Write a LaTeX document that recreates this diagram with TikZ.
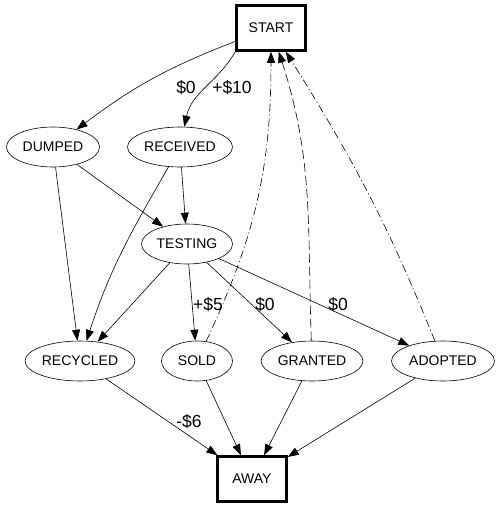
\documentclass[tikz,border=0pt]{standalone}
\usepackage{fontspec}
\setmainfont{Liberation Sans}
\usetikzlibrary{shapes.geometric,arrows.meta}

\tikzset{
  state/.style={draw, ellipse, line width=0.6pt, inner sep=0pt, minimum height=40pt},
  endbox/.style={draw, rectangle, line width=2.5pt, minimum width=69pt, minimum height=45pt},
  amount/.style={font=\fontsize{17.5}{20}\selectfont, inner sep=0pt},
  flow/.style={->, line width=0.6pt},
  back/.style={->, line width=0.6pt, dash pattern=on 9pt off 4pt},
  backdot/.style={->, line width=0.6pt, dash pattern=on 8pt off 3pt on 1pt off 3pt},
}

\begin{document}
\begin{tikzpicture}[x=1pt, y=1pt, >={Triangle[length=11pt,width=8pt]},
    font=\fontsize{14}{16}\selectfont]
  \useasboundingbox (0,0) rectangle (501,-509);

  % states
  \node[endbox] (start) at (271,-28) {START};
  \node[state, minimum width=93pt] (dumped) at (53,-147) {DUMPED};
  \node[state, minimum width=105pt] (received) at (180,-147) {RECEIVED};
  \node[state, minimum width=91pt] (testing) at (187,-244) {TESTING};
  \node[state, minimum width=110pt] (recycled) at (80,-361) {RECYCLED};
  \node[state, minimum width=71pt] (sold) at (197,-361) {SOLD};
  \node[state, minimum width=102pt] (granted) at (312,-361) {GRANTED};
  \node[state, minimum width=103pt] (adopted) at (443,-361) {ADOPTED};
  \node[endbox] (away) at (252,-479) {AWAY};

  % forward edges
  \draw[flow] (start) to[bend right=8] (dumped);
  \draw[flow] (start.south west) to[out=-120,in=78] (received);
  \draw[flow] (dumped) -- (testing);
  \draw[flow] (dumped) -- (recycled);
  \draw[flow] (received) -- (testing);
  \draw[flow] (received) to[out=-120,in=72] (recycled);
  \draw[flow] (testing) -- (recycled);
  \draw[flow] (testing) -- (sold);
  \draw[flow] (testing) -- (granted);
  \draw[flow] (testing) -- (adopted);
  \draw[flow] (recycled) -- (away);
  \draw[flow] (sold) -- (away);
  \draw[flow] (granted) -- (away);
  \draw[flow] (adopted) -- (away);

  % back to start
  \draw[backdot] (sold) to[out=65,in=-90] (start);
  \draw[back] (granted) to[out=92,in=-72] (start);
  \draw[backdot] (adopted) to[out=112,in=-58] (start);

  % amounts
  \node[amount] (lbl0a) at (186,-88) {\$0};
  \node[amount] (lbl10) at (232,-88) {+\$10};
  \node[amount] (lbl5) at (208,-305) {+\$5};
  \node[amount] (lbl0b) at (265,-305) {\$0};
  \node[amount] (lbl0c) at (338,-305) {\$0};
  \node[amount] (lbl6) at (189,-422) {-\$6};
\end{tikzpicture}
\end{document}
